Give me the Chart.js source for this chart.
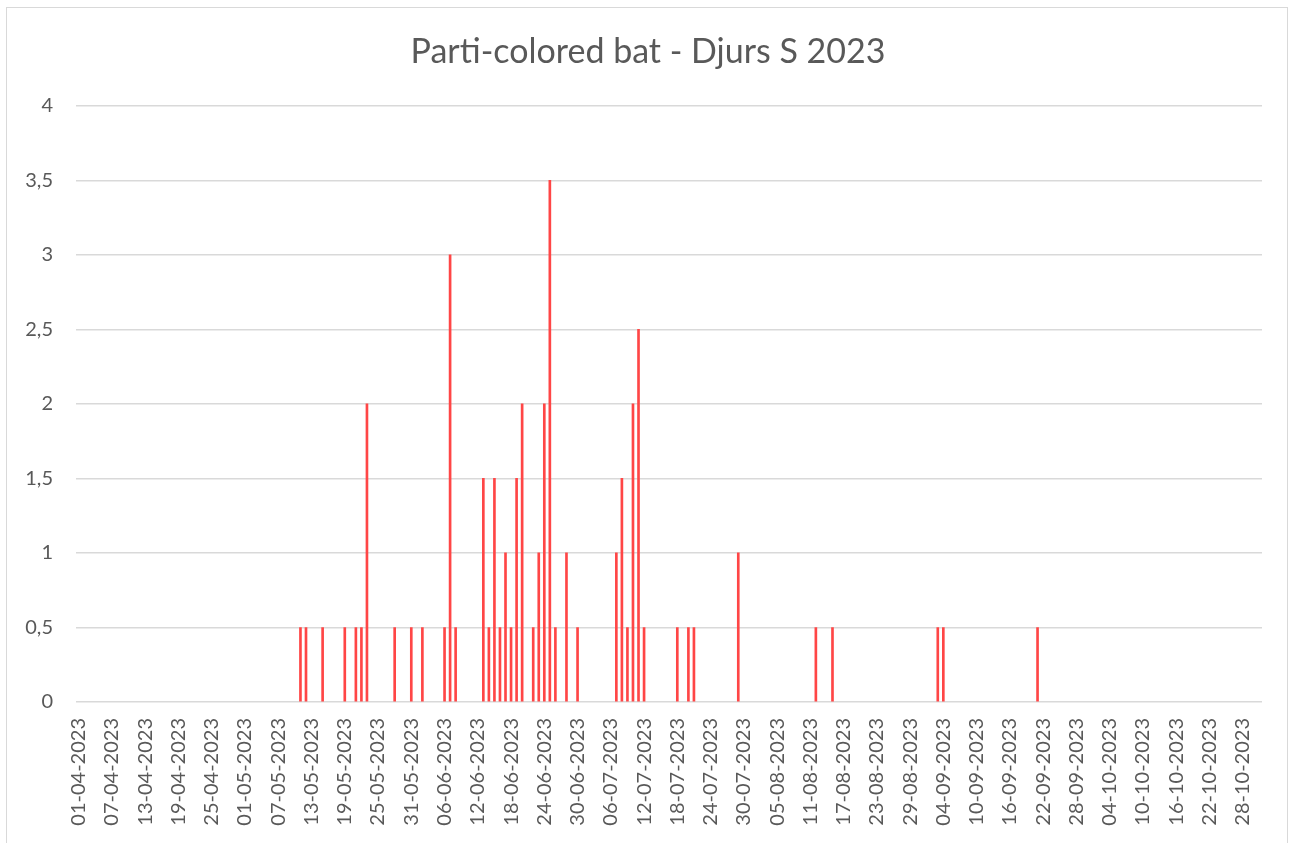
<!DOCTYPE html>
<html>
<head>
<meta charset="utf-8">
<script src="https://cdn.jsdelivr.net/npm/chart.js@4"></script>
<style>
  html, body { margin: 0; padding: 0; background: #fff; }
  #wrap { position: relative; width: 1296px; height: 843px; overflow: hidden; }
  #frame { position: absolute; left: 6px; top: 7px; width: 1280px; height: 850px; border: 1px solid #d9d9d9; pointer-events: none; }
</style>
</head>
<body>
<div id="wrap">
  <canvas id="chart" width="1296" height="843"></canvas>
  <div id="frame"></div>
</div>
<script>
// Season shown on the axis: 01-04-2023 .. 31-10-2023, one category per day
const seasonStart = '2023-04-01';
const seasonDays = 214;
const labelEvery = 6;

// Nights with recordings (DD-MM-2023) and their values
const obsDates = [
  '11-05-2023', '12-05-2023', '15-05-2023', '19-05-2023', '21-05-2023', '22-05-2023', '23-05-2023',
  '28-05-2023', '31-05-2023', '02-06-2023', '06-06-2023', '07-06-2023', '08-06-2023',
  '13-06-2023', '14-06-2023', '15-06-2023', '16-06-2023', '17-06-2023', '18-06-2023', '19-06-2023',
  '20-06-2023', '22-06-2023', '23-06-2023', '24-06-2023', '25-06-2023', '26-06-2023', '28-06-2023',
  '30-06-2023', '07-07-2023', '08-07-2023', '09-07-2023', '10-07-2023', '11-07-2023', '12-07-2023',
  '18-07-2023', '20-07-2023', '21-07-2023', '29-07-2023', '12-08-2023', '15-08-2023',
  '03-09-2023', '04-09-2023', '21-09-2023'
];
const obsValues = [
  0.5, 0.5, 0.5, 0.5, 0.5, 0.5, 2,
  0.5, 0.5, 0.5, 0.5, 3, 0.5,
  1.5, 0.5, 1.5, 0.5, 1, 0.5, 1.5,
  2, 0.5, 1, 2, 3.5, 0.5, 1,
  0.5, 1, 1.5, 0.5, 2, 2.5, 0.5,
  0.5, 0.5, 0.5, 1, 0.5, 0.5,
  0.5, 0.5, 0.5
];

// y axis ticks
const yTicks = [0, 0.5, 1, 1.5, 2, 2.5, 3, 3.5, 4];

// build the daily category list and the series from the arrays above
const labels = [];
const start = new Date(seasonStart + 'T00:00:00Z');
for (let i = 0; i < seasonDays; i++) {
  const d = new Date(start.getTime() + i * 86400000);
  const dd = String(d.getUTCDate()).padStart(2, '0');
  const mm = String(d.getUTCMonth() + 1).padStart(2, '0');
  labels.push(dd + '-' + mm + '-' + d.getUTCFullYear());
}
// days without recordings stay empty so no stub is drawn on the zero line
const values = labels.map(l => {
  const k = obsDates.indexOf(l);
  return k >= 0 ? obsValues[k] : null;
});

const font = 'Lato, "Open Sans", sans-serif';
const grey = '#595959';

new Chart(document.getElementById('chart').getContext('2d'), {
  type: 'bar',
  data: {
    labels: labels,
    datasets: [{
      label: 'Parti-colored bat',
      data: values,
      backgroundColor: 'rgb(255, 70, 70)',
      barThickness: 2
    }]
  },
  options: {
    responsive: false,
    animation: false,
    devicePixelRatio: 1,
    layout: { padding: 0 },
    plugins: {
      legend: { display: false },
      tooltip: { enabled: false },
      title: {
        display: true,
        text: 'Parti-colored bat - Djurs S 2023',
        color: grey,
        font: { family: font, size: 34, weight: 'normal' },
        padding: { top: 32, bottom: 33 }
      }
    },
    scales: {
      x: {
        grid: { display: false },
        border: { display: false },
        ticks: {
          autoSkip: false,
          minRotation: 90,
          maxRotation: 90,
          padding: 8,
          color: grey,
          font: { family: font, size: 20 },
          callback: (v, i) => (i % labelEvery === 0 ? labels[i] : '')
        },
        afterFit: s => { s.height = 141; }
      },
      y: {
        min: yTicks[0],
        max: yTicks[yTicks.length - 1],
        border: { display: false },
        grid: { color: '#d9d9d9', lineWidth: 1.5, drawTicks: false },
        ticks: {
          stepSize: 0.5,
          padding: 23,
          color: grey,
          font: { family: font, size: 20 },
          callback: v => String(v).replace('.', ',')
        },
        afterFit: s => { s.width = 76; }
      },
      // empty right-hand spacer so the plot ends where the reference does
      yRight: {
        position: 'right',
        min: 0,
        max: 4,
        border: { display: false },
        grid: { drawOnChartArea: false, drawTicks: false },
        ticks: { display: false },
        afterFit: s => { s.width = 34; }
      }
    }
  }
});
</script>
</body>
</html>
